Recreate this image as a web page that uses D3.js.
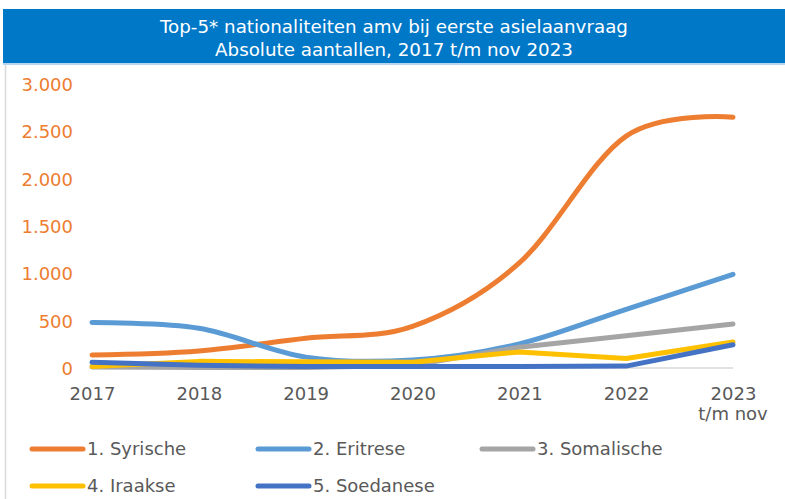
<!DOCTYPE html>
<html><head><meta charset="utf-8">
<script src="https://cdn.jsdelivr.net/npm/d3@7"></script>
<style>body{margin:0;background:#fff}svg{display:block}</style>
</head><body>
<svg id="c" width="785" height="499"></svg>
<script>
const years = ["2017","2018","2019","2020","2021","2022","2023"];
const yearSub = ["","","","","","","t/m nov"];
const seriesNames = ["1. Syrische","2. Eritrese","3. Somalische","4. Iraakse","5. Soedanese"];
const syrische   = [137, 180, 315, 440, 1110, 2450, 2650];
const eritrese   = [480, 420, 115, 85, 255, 620, 990];
const somalische = [10, 5, 5, 30, 220, 340, 465];
const iraakse    = [15, 70, 65, 60, 170, 100, 275];
const soedanese  = [60, 30, 15, 15, 15, 20, 245];
const smoothed   = [true, true, false, false, false];
const yTicks = [0, 500, 1000, 1500, 2000, 2500, 3000];
const colors = ["#ED7D31","#5B9BD5","#A5A5A5","#FFC000","#4472C4"];
const titleLines = ["Top-5* nationaliteiten amv bij eerste asielaanvraag","Absolute aantallen, 2017 t/m nov 2023"];

const allSeries = [syrische, eritrese, somalische, iraakse, soedanese];
const svg = d3.select("#c");
const font = "'DejaVu Sans', Verdana, sans-serif";

// title bar
svg.append("rect").attr("x",3).attr("y",9).attr("width",782).attr("height",54).attr("fill","#0078C8");
svg.append("rect").attr("x",3).attr("y",63).attr("width",782).attr("height",2).attr("fill","#B7D5EE");
svg.append("line").attr("x1",5.5).attr("x2",5.5).attr("y1",65).attr("y2",499).attr("stroke","#D9D9D9").attr("stroke-width",1.5);
svg.selectAll("text.title").data(titleLines).join("text").attr("class","title")
  .attr("x",394).attr("y",(d,i)=>33+i*23).attr("text-anchor","middle")
  .attr("fill","#fff").style("font-family",font).style("font-size","18.3px").text(d=>d);

const x = d3.scalePoint().domain(years).range([92, 733]);
const y = d3.scaleLinear().domain([0, 3000]).range([368, 84]);
const loc = d3.formatLocale({decimal:",", thousands:".", grouping:[3], currency:["€",""]});
const fmt = loc.format(",d");

// y axis
const yAxis = svg.append("g").attr("transform","translate(78,0)")
  .call(d3.axisLeft(y).tickValues(yTicks).tickFormat(fmt).tickSize(0).tickPadding(5));
yAxis.select(".domain").remove();
yAxis.selectAll("text").attr("fill","#ED7D31").style("font-family",font).style("font-size","18px").attr("dy","0.36em");

// baseline
svg.append("line").attr("x1",92).attr("x2",733).attr("y1",y(0)).attr("y2",y(0)).attr("stroke","#D9D9D9").attr("stroke-width",1.5);

// x axis
const xAxis = svg.append("g").attr("transform","translate(0,368)")
  .call(d3.axisBottom(x).tickSize(0).tickPadding(19));
xAxis.select(".domain").remove();
xAxis.selectAll("text").attr("fill","#595959").style("font-family",font).style("font-size","18px");
svg.selectAll("text.sub").data(years).join("text").attr("class","sub")
  .attr("x",d=>x(d)).attr("y",420).attr("text-anchor","middle").attr("fill","#595959")
  .style("font-family",font).style("font-size","18px").text((d,i)=>yearSub[i]);

// lines
const smoothLine = d3.line().x((d,i)=>x(years[i])).y(d=>y(d)).curve(d3.curveCatmullRom.alpha(0));
const straightLine = d3.line().x((d,i)=>x(years[i])).y(d=>y(d)).curve(d3.curveLinear);
svg.selectAll("path.s").data(allSeries).join("path").attr("class","s")
  .attr("d",(d,i)=>smoothed[i] ? smoothLine(d) : straightLine(d)).attr("fill","none").attr("stroke",(d,i)=>colors[i])
  .attr("stroke-width",5).attr("stroke-linecap","round").attr("stroke-linejoin","round");

// legend
const legPos = [[30,449],[256,449],[480,449],[30,486],[256,486]];
const lg = svg.selectAll("g.leg").data(seriesNames).join("g").attr("class","leg")
  .attr("transform",(d,i)=>`translate(${legPos[i][0]},${legPos[i][1]})`);
lg.append("line").attr("x1",2).attr("x2",53).attr("stroke",(d,i)=>colors[i]).attr("stroke-width",5).attr("stroke-linecap","round");
lg.append("text").attr("x",57).attr("dy","0.36em").attr("fill","#595959").style("font-family",font).style("font-size","18px").text(d=>d);
</script>
</body></html>
